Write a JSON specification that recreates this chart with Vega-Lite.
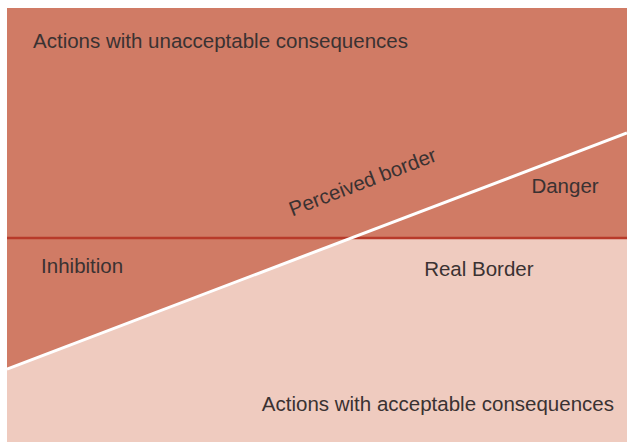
{
  "$schema": "https://vega.github.io/schema/vega-lite/v6.json",
  "width": 620,
  "height": 434,
  "autosize": {"type": "none"},
  "padding": {"left": 7, "top": 8, "right": 0, "bottom": 0},
  "background": "white",
  "config": {"view": {"stroke": null}},
  "datasets": {
    "bg": [{"x0": 0, "x1": 10, "y0": 0, "y1": 10}],
    "dark": [
      {"x": 0, "lower": 1.68, "upper": 10},
      {"x": 5.55, "lower": 4.7, "upper": 10},
      {"x": 10, "lower": 4.7, "upper": 10}
    ],
    "real": [{"y": 4.7, "x0": 0, "x1": 10}],
    "perceived": [{"x": 0, "y": 1.68}, {"x": 10, "y": 7.12}],
    "labels": [
      {"label": "Actions with unacceptable consequences", "x": 0.42, "y": 9.22, "align": "left", "angle": 0},
      {"label": "Perceived border", "x": 5.74, "y": 5.97, "align": "center", "angle": 339},
      {"label": "Danger", "x": 9.0, "y": 5.88, "align": "center", "angle": 0},
      {"label": "Inhibition", "x": 0.55, "y": 4.03, "align": "left", "angle": 0},
      {"label": "Real Border", "x": 7.61, "y": 3.96, "align": "center", "angle": 0},
      {"label": "Actions with acceptable consequences", "x": 9.79, "y": 0.85, "align": "right", "angle": 0}
    ]
  },
  "layer": [
    {
      "data": {"name": "bg"},
      "mark": {"type": "rect", "color": "#efcbbf"},
      "encoding": {
        "x": {"field": "x0", "type": "quantitative", "scale": {"domain": [0, 10], "nice": false, "zero": false}, "axis": null},
        "x2": {"field": "x1"},
        "y": {"field": "y0", "type": "quantitative", "scale": {"domain": [0, 10], "nice": false, "zero": false}, "axis": null},
        "y2": {"field": "y1"}
      }
    },
    {
      "data": {"name": "dark"},
      "mark": {"type": "area", "color": "#d07b65", "opacity": 1},
      "encoding": {
        "x": {"field": "x", "type": "quantitative"},
        "y": {"field": "lower", "type": "quantitative"},
        "y2": {"field": "upper"}
      }
    },
    {
      "data": {"name": "real"},
      "mark": {"type": "rule", "color": "#b83a2a", "strokeWidth": 2.5},
      "encoding": {
        "x": {"field": "x0", "type": "quantitative"},
        "x2": {"field": "x1"},
        "y": {"field": "y", "type": "quantitative"}
      }
    },
    {
      "data": {"name": "perceived"},
      "mark": {"type": "line", "color": "white", "strokeWidth": 3},
      "encoding": {
        "x": {"field": "x", "type": "quantitative"},
        "y": {"field": "y", "type": "quantitative"}
      }
    },
    {
      "data": {"name": "labels"},
      "transform": [{"filter": "datum.align === 'left'"}],
      "mark": {"type": "text", "font": "Liberation Sans", "fontSize": 20.5, "color": "#3a3232", "baseline": "middle", "align": "left"},
      "encoding": {
        "x": {"field": "x", "type": "quantitative"},
        "y": {"field": "y", "type": "quantitative"},
        "text": {"field": "label"},
        "angle": {"field": "angle", "type": "quantitative", "scale": null}
      }
    },
    {
      "data": {"name": "labels"},
      "transform": [{"filter": "datum.align === 'center'"}],
      "mark": {"type": "text", "font": "Liberation Sans", "fontSize": 20.5, "color": "#3a3232", "baseline": "middle", "align": "center"},
      "encoding": {
        "x": {"field": "x", "type": "quantitative"},
        "y": {"field": "y", "type": "quantitative"},
        "text": {"field": "label"},
        "angle": {"field": "angle", "type": "quantitative", "scale": null}
      }
    },
    {
      "data": {"name": "labels"},
      "transform": [{"filter": "datum.align === 'right'"}],
      "mark": {"type": "text", "font": "Liberation Sans", "fontSize": 20.5, "color": "#3a3232", "baseline": "middle", "align": "right"},
      "encoding": {
        "x": {"field": "x", "type": "quantitative"},
        "y": {"field": "y", "type": "quantitative"},
        "text": {"field": "label"},
        "angle": {"field": "angle", "type": "quantitative", "scale": null}
      }
    }
  ]
}
